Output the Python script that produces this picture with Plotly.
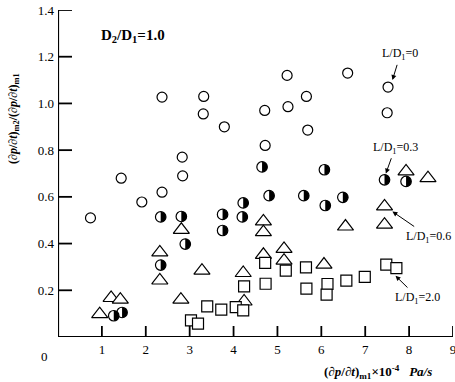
import plotly.graph_objects as go

# L/D1 = 0 (open circles)
c_x = [0.74, 1.44, 1.91, 2.37, 2.84, 2.83, 2.37, 3.32, 3.31, 3.79, 4.72, 4.71, 5.24, 5.22, 5.66, 5.69, 6.60, 7.52, 7.50]
c_y = [0.51, 0.68, 0.578, 0.62, 0.69, 0.77, 1.027, 1.03, 0.955, 0.90, 0.82, 0.97, 0.986, 1.12, 1.03, 0.886, 1.13, 1.07, 0.96]

# L/D1 = 0.3 (half-filled circles)
h_x = [1.27, 1.46, 2.34, 2.34, 2.81, 2.90, 3.75, 3.75, 4.20, 4.22, 4.65, 4.81, 5.60, 6.07, 6.09, 6.49, 7.44, 7.93]
h_y = [0.091, 0.105, 0.514, 0.308, 0.516, 0.398, 0.525, 0.456, 0.514, 0.574, 0.728, 0.605, 0.605, 0.716, 0.563, 0.598, 0.673, 0.666]

# L/D1 = 0.6 (triangles)
t_x = [0.95, 1.21, 1.42, 2.32, 2.32, 2.80, 2.81, 3.28, 4.22, 4.24, 4.68, 4.68, 4.68, 5.15, 5.15, 6.06, 6.55, 7.44, 7.44, 7.93, 8.43]
t_y = [0.098, 0.167, 0.16, 0.362, 0.242, 0.16, 0.459, 0.284, 0.274, 0.152, 0.495, 0.449, 0.352, 0.377, 0.327, 0.31, 0.473, 0.559, 0.481, 0.709, 0.68]

# L/D1 = 2.0 (squares)
s_x = [3.03, 3.19, 3.40, 3.72, 4.05, 4.22, 4.24, 4.72, 4.73, 5.19, 5.65, 5.66, 6.14, 6.12, 6.57, 6.99, 7.48, 7.71]
s_y = [0.071, 0.057, 0.131, 0.117, 0.128, 0.114, 0.217, 0.317, 0.228, 0.284, 0.298, 0.207, 0.227, 0.181, 0.241, 0.257, 0.31, 0.295]

x_range = [0, 9]
y_range = [0, 1.4]
x_ticks = [1, 2, 3, 4, 5, 6, 7, 8, 9]
y_ticks = [0.2, 0.4, 0.6, 0.8, 1.0, 1.2, 1.4]
y_ticktext = ["0.2", "0.4", "0.6", "0.8", "1.0", "1.2", "1.4"]

SERIF = "Liberation Serif"
fig = go.Figure()

# L-shaped axis frame (left + bottom) as a line trace
fig.add_trace(go.Scatter(x=[x_range[1], x_range[0], x_range[0]], y=[y_range[0], y_range[0], y_range[1]],
                         mode="lines", line=dict(color="black", width=2.2), cliponaxis=False,
                         hoverinfo="skip"))

fig.add_trace(go.Scatter(x=c_x, y=c_y, mode="markers", name="L/D1=0",
                         marker=dict(symbol="circle", size=10, color="white",
                                     line=dict(color="black", width=1.2))))
fig.add_trace(go.Scatter(x=h_x, y=h_y, mode="markers", name="L/D1=0.3",
                         marker=dict(symbol="circle", size=10.5, color="rgba(0,0,0,0)",
                                     line=dict(color="black", width=1.2))))
fig.add_trace(go.Scatter(x=t_x, y=t_y, mode="markers", name="L/D1=0.6",
                         marker=dict(symbol="triangle-up", size=14, color="white",
                                     line=dict(color="black", width=1.2))))
fig.add_trace(go.Scatter(x=s_x, y=s_y, mode="markers", name="L/D1=2.0",
                         marker=dict(symbol="square", size=11, color="white",
                                     line=dict(color="black", width=1.2))))

# right-half filled discs for the L/D1=0.3 markers
r = 5.2
k = 0.5523 * r
half_path = (f"M 0,{r} C {k},{r} {r},{k} {r},0 C {r},{-k} {k},{-r} 0,{-r} Z")
shapes = []
for xv, yv in zip(h_x, h_y):
    shapes.append(dict(type="path", xref="x", yref="y", xsizemode="pixel", ysizemode="pixel",
                       xanchor=xv, yanchor=yv, path=half_path, fillcolor="black",
                       line=dict(width=0), layer="below"))

# inward ticks drawn as thin filled bars
bar = dict(fillcolor="black", line=dict(width=0), layer="below")
for v in x_ticks:
    shapes.append(dict(type="rect", xref="x", yref="paper", xsizemode="pixel", xanchor=v,
                       ysizemode="pixel", yanchor=0, x0=-0.9, x1=0.9, y0=0, y1=11, **bar))
for v in y_ticks:
    shapes.append(dict(type="rect", xref="x", yref="y", xsizemode="pixel", xanchor=0,
                       ysizemode="pixel", yanchor=v, x0=0, x1=14, y0=-0.9, y1=0.9, **bar))

ann = []
ann.append(dict(text="<b>D<sub>2</sub>/D<sub>1</sub>=1.0</b>", x=0.19, y=0.92, xref="paper", yref="paper",
                xanchor="center", yanchor="middle",
                showarrow=False, font=dict(family=SERIF, size=15, color="black")))
lab_font = dict(family=SERIF, size=12, color="black")
for txt, tx, ty, ax, ay in [("L/D<sub>1</sub>=0", 7.62, 1.10, 7.8, 1.21),
                            ("L/D<sub>1</sub>=0.3", 7.47, 0.70, 7.68, 0.81),
                            ("L/D<sub>1</sub>=0.6", 7.62, 0.537, 8.45, 0.43),
                            ("L/D<sub>1</sub>=2.0", 7.69, 0.262, 8.2, 0.168)]:
    ann.append(dict(text=txt, x=tx, y=ty, ax=ax, ay=ay, xref="x", yref="y", axref="x", ayref="y",
                    showarrow=True, arrowhead=2, arrowsize=1, arrowwidth=1, arrowcolor="black",
                    standoff=0, startstandoff=1, font=lab_font))
ann.append(dict(text="0", x=-0.02, y=-0.03, xref="paper", yref="paper", xanchor="right", yanchor="top",
                showarrow=False, font=dict(family=SERIF, size=13, color="black")))
ann.append(dict(text="<b>(∂<i>p</i>/∂<i>t</i>)<sub>m1</sub>×10<sup>-4</sup>   <i>Pa/s</i></b>",
                x=0.81, y=-0.108, xref="paper", yref="paper", xanchor="center", yanchor="middle",
                showarrow=False, font=dict(family=SERIF, size=13, color="black")))
ann.append(dict(text="<b>(∂<i>p</i>/∂<i>t</i>)<sub>m2</sub>/(∂<i>p</i>/∂<i>t</i>)<sub>m1</sub></b>",
                x=-0.112, y=0.669, xref="paper", yref="paper", xanchor="center", yanchor="middle",
                showarrow=False, textangle=-90,
                font=dict(family=SERIF, size=12, color="black")))

axis_common = dict(showgrid=False, zeroline=False, showline=False, ticks="",
                   automargin=False, ticklabeloverflow="allow", ticklabelstandoff=3,
                   tickfont=dict(family=SERIF, size=13, color="black"))
fig.update_layout(
    width=455, height=382,
    margin=dict(l=58, r=2, t=10, b=45, autoexpand=False),
    paper_bgcolor="white", plot_bgcolor="white",
    showlegend=False,
    shapes=shapes, annotations=ann,
    xaxis=dict(range=x_range, tickvals=x_ticks, ticktext=[str(v) for v in x_ticks], **axis_common),
    yaxis=dict(range=y_range, tickvals=y_ticks, ticktext=y_ticktext, **axis_common),
)
fig.write_html("out.html", config={"displayModeBar": False},
               post_script="document.body.style.margin='0';document.body.style.padding='0';")
